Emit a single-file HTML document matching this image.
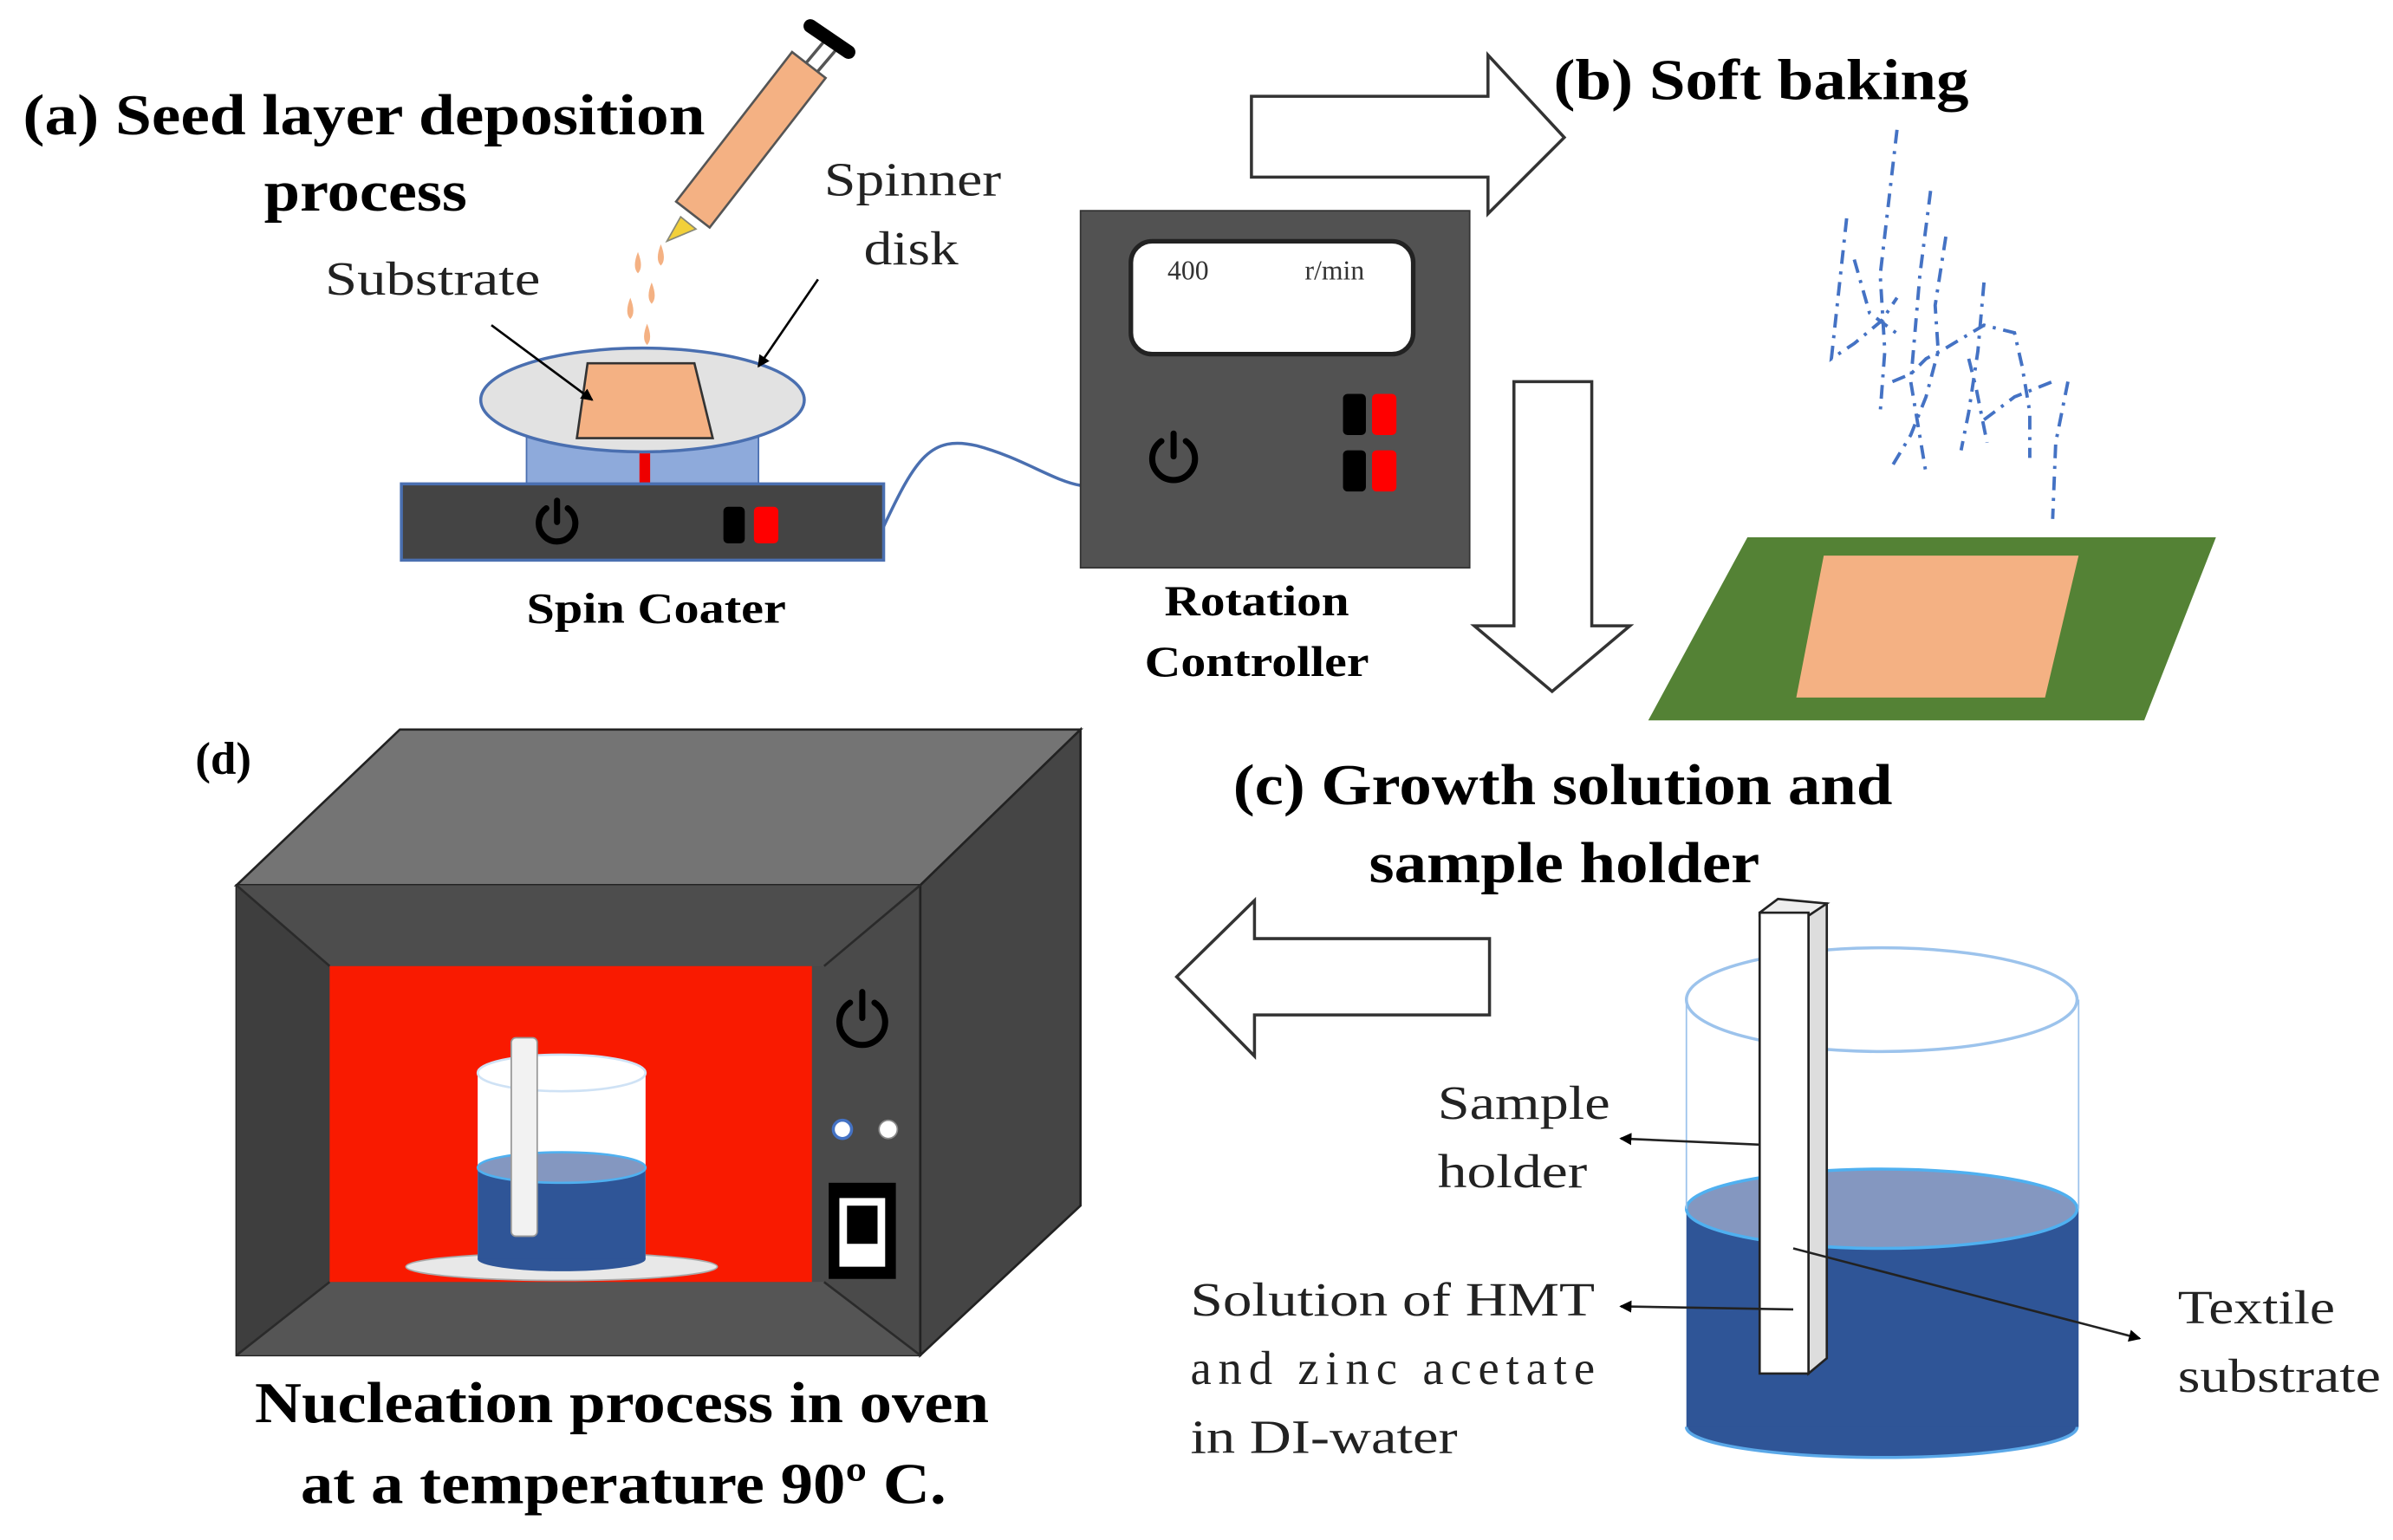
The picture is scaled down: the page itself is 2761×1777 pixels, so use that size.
<!DOCTYPE html>
<html><head><meta charset="utf-8"><style>html,body{margin:0;padding:0;background:#fff}svg{display:block}svg text{font-family:"Liberation Serif",serif}</style></head>
<body>
<svg width="2761" height="1777" viewBox="0 0 1568 1009" xmlns="http://www.w3.org/2000/svg" font-family="'Liberation Serif', serif">
<defs>
<marker id="ah" markerWidth="8" markerHeight="8" refX="7" refY="4" orient="auto" markerUnits="userSpaceOnUse"><path d="M0,0 L8,4 L0,8 z" fill="#000"/></marker>
</defs>
<rect width="1568" height="1009" fill="#fff"/>

<g font-weight="bold" fill="#000">
<text x="15" y="88" font-size="38" textLength="447" lengthAdjust="spacingAndGlyphs">(a) Seed layer deposition</text>
<text x="173" y="138" font-size="38" textLength="133" lengthAdjust="spacingAndGlyphs">process</text>
<text x="1018" y="65" font-size="38" textLength="272" lengthAdjust="spacingAndGlyphs">(b) Soft baking</text>
<text x="808" y="527" font-size="38" textLength="432" lengthAdjust="spacingAndGlyphs">(c) Growth solution and</text>
<text x="897" y="578" font-size="38" textLength="256" lengthAdjust="spacingAndGlyphs">sample holder</text>
<text x="128" y="507" font-size="30">(d)</text>
<text x="167" y="932" font-size="38" textLength="481" lengthAdjust="spacingAndGlyphs">Nucleation process in oven</text>
<text x="197" y="985" font-size="38" textLength="423" lengthAdjust="spacingAndGlyphs">at a temperature 90º C.</text>
<text x="345" y="408" font-size="28" textLength="170" lengthAdjust="spacingAndGlyphs">Spin Coater</text>
<text x="763" y="403" font-size="28" textLength="121" lengthAdjust="spacingAndGlyphs">Rotation</text>
<text x="750" y="443" font-size="28" textLength="147" lengthAdjust="spacingAndGlyphs">Controller</text>
</g>
<g fill="#222" font-size="31">
<text x="213" y="193" textLength="141" lengthAdjust="spacingAndGlyphs">Substrate</text>
<text x="540" y="128" textLength="116" lengthAdjust="spacingAndGlyphs">Spinner</text>
<text x="566" y="173" textLength="62" lengthAdjust="spacingAndGlyphs">disk</text>
<text x="942" y="733" textLength="113" lengthAdjust="spacingAndGlyphs">Sample</text>
<text x="942" y="778" textLength="98" lengthAdjust="spacingAndGlyphs">holder</text>
<text x="780" y="862" textLength="265" lengthAdjust="spacingAndGlyphs">Solution of HMT</text>
<text x="780" y="907" textLength="265" lengthAdjust="spacing">and zinc acetate</text>
<text x="780" y="952" textLength="175" lengthAdjust="spacingAndGlyphs">in DI-water</text>
<text x="1427" y="867" textLength="103" lengthAdjust="spacingAndGlyphs">Textile</text>
<text x="1427" y="912" textLength="133" lengthAdjust="spacingAndGlyphs">substrate</text>
</g>

<line x1="525" y1="45" x2="540" y2="27" stroke="#555" stroke-width="2"/>
<line x1="533" y1="50" x2="550" y2="30" stroke="#555" stroke-width="2"/>
<line x1="531" y1="17" x2="556" y2="34" stroke="#000" stroke-width="9" stroke-linecap="round"/>
<polygon points="443,132 465,149 541,51 519,34" fill="#f4b183" stroke="#555" stroke-width="1.5"/>
<polygon points="446,142 456,150 437,158" fill="#f2d03a" stroke="#887" stroke-width="1"/>
<g fill="#f4b183">
<path d="M433,160 q-4,10 0,14 q4,-4 0,-14z"/><path d="M418,165 q-4,10 0,14 q4,-4 0,-14z"/>
<path d="M427,185 q-4,10 0,14 q4,-4 0,-14z"/><path d="M413,195 q-4,10 0,14 q4,-4 0,-14z"/>
<path d="M424,212 q-4,10 0,14 q4,-4 0,-14z"/>
</g>

<rect x="345" y="265" width="152" height="54" fill="#8eaadb" stroke="#4a6fb0" stroke-width="1"/>
<rect x="419" y="297" width="7" height="21" fill="#e00"/>
<ellipse cx="421" cy="262" rx="106" ry="34" fill="#e2e2e2" stroke="#4a6fb0" stroke-width="2"/>
<polygon points="385,238 455,238 467,287 378,287" fill="#f4b183" stroke="#333" stroke-width="1.5"/>
<rect x="263" y="317" width="316" height="50" fill="#444" stroke="#4a6fb0" stroke-width="2"/>
<g fill="none" stroke="#000" stroke-width="4" stroke-linecap="round">
<path d="M358,333 A12,12 0 1 0 372,333"/><line x1="365" y1="328" x2="365" y2="342"/>
</g>
<rect x="474" y="332" width="14" height="24" rx="3" fill="#000"/>
<rect x="494" y="332" width="16" height="24" rx="3" fill="#f00"/>
<path d="M579,345 C600,300 610,285 640,292 C670,300 690,315 708,318" fill="none" stroke="#4a6fb0" stroke-width="2"/>
<line x1="322" y1="213" x2="388" y2="262" stroke="#000" stroke-width="1.5" marker-end="url(#ah)"/>
<line x1="536" y1="183" x2="497" y2="240" stroke="#000" stroke-width="1.5" marker-end="url(#ah)"/>

<rect x="708" y="138" width="255" height="234" fill="#525252" stroke="#333" stroke-width="1"/>
<rect x="741" y="158" width="185" height="74" rx="14" fill="#fff" stroke="#222" stroke-width="3"/>
<text x="765" y="183" font-size="18" fill="#333">400</text>
<text x="855" y="183" font-size="18" fill="#333">r/min</text>
<g fill="none" stroke="#000" stroke-width="4" stroke-linecap="round">
<path d="M761,289 A14,14 0 1 0 777,289"/><line x1="769" y1="284" x2="769" y2="299"/>
</g>
<rect x="880" y="258" width="15" height="27" rx="3" fill="#000"/>
<rect x="899" y="258" width="16" height="27" rx="3" fill="#f00"/>
<rect x="880" y="295" width="15" height="27" rx="3" fill="#000"/>
<rect x="899" y="295" width="16" height="27" rx="3" fill="#f00"/>

<polygon points="820,63 975,63 975,36 1025,90 975,140 975,116 820,116" fill="#fff" stroke="#333" stroke-width="2"/>
<polygon points="992,250 1043,250 1043,410 1068,410 1017,453 966,410 992,410" fill="#fff" stroke="#333" stroke-width="2"/>
<polygon points="976,615 822,615 822,590 771,640 822,692 822,665 976,665" fill="#fff" stroke="#333" stroke-width="2"/>

<g fill="none" stroke="#4472c4" stroke-width="2.2" stroke-dasharray="9 5 2 5">
<polyline points="1243,85 1232,180 1235,230 1232,270"/>
<polyline points="1210,143 1200,235 1215,225 1233,210 1243,195"/>
<polyline points="1265,125 1258,180 1252,250 1262,310"/>
<polyline points="1275,155 1268,200 1270,230 1262,260 1252,285 1240,305"/>
<polyline points="1300,185 1296,230 1290,270 1285,295"/>
<polyline points="1240,250 1252,245 1262,235 1275,228 1300,213 1320,218 1325,240 1330,270 1330,300"/>
<polyline points="1355,250 1347,290 1345,340"/>
<polyline points="1300,275 1320,260 1345,250"/>
<polyline points="1215,170 1225,205 1245,220"/>
<polyline points="1290,235 1295,255 1302,290"/>
</g>
<polygon points="1145,352 1452,352 1405,472 1080,472" fill="#548235"/>
<polygon points="1195,364 1362,364 1340,457 1177,457" fill="#f4b183"/>

<ellipse cx="1233" cy="935" rx="128" ry="20" fill="#2f5597"/>
<path d="M1105,935 A128,20 0 0 0 1361,935" fill="none" stroke="#5aa8e8" stroke-width="2"/>
<rect x="1105" y="792" width="257" height="143" fill="#2f5597"/>
<ellipse cx="1233" cy="792" rx="128" ry="26" fill="#8497c0" stroke="#4fb0f0" stroke-width="2"/>
<line x1="1105" y1="655" x2="1105" y2="792" stroke="#9cc3ec" stroke-width="1"/>
<line x1="1362" y1="655" x2="1362" y2="792" stroke="#9cc3ec" stroke-width="1"/>
<ellipse cx="1233" cy="655" rx="128" ry="34" fill="none" stroke="#9cc3ec" stroke-width="2"/>
<polygon points="1185,592 1197,592 1197,890 1185,900" fill="#ddd" stroke="#222" stroke-width="1.5"/>
<polygon points="1153,600 1185,600 1197,592 1165,589 1153,598" fill="#eee" stroke="#222" stroke-width="1.5"/>
<rect x="1153" y="598" width="32" height="302" fill="#fff" stroke="#222" stroke-width="1.5"/>
<line x1="1153" y1="750" x2="1062" y2="746" stroke="#222" stroke-width="1.5" marker-end="url(#ah)"/>
<line x1="1175" y1="858" x2="1062" y2="856" stroke="#222" stroke-width="1.5" marker-end="url(#ah)"/>
<line x1="1175" y1="818" x2="1402" y2="877" stroke="#222" stroke-width="1.5" marker-end="url(#ah)"/>

<polygon points="155,580 262,478 708,478 603,580" fill="#747474" stroke="#222" stroke-width="1.5"/>
<polygon points="603,580 708,478 708,790 603,888" fill="#454545" stroke="#222" stroke-width="1.5"/>
<rect x="155" y="580" width="448" height="308" fill="#4a4a4a" stroke="#222" stroke-width="1.5"/>
<polygon points="155,580 216,633 216,840 155,888" fill="#3e3e3e"/>
<polygon points="155,888 216,840 540,840 603,888" fill="#555"/>
<polygon points="155,580 603,580 540,633 216,633" fill="#4d4d4d"/>
<g stroke="#2a2a2a" stroke-width="1.5"><line x1="155" y1="580" x2="216" y2="633"/><line x1="603" y1="580" x2="540" y2="633"/><line x1="155" y1="888" x2="216" y2="840"/><line x1="603" y1="888" x2="540" y2="840"/></g>
<rect x="216" y="633" width="316" height="207" fill="#f91a00"/>
<ellipse cx="368" cy="830" rx="102" ry="9" fill="#e8e8e8" stroke="#aaa" stroke-width="1"/>
<rect x="313" y="703" width="110" height="120" fill="#fff"/>
<ellipse cx="368" cy="703" rx="55" ry="12" fill="#fff" stroke="#cfe2f5" stroke-width="1.5"/>
<ellipse cx="368" cy="825" rx="55" ry="8" fill="#2f5597"/>
<rect x="313" y="765" width="110" height="60" fill="#2f5597"/>
<ellipse cx="368" cy="765" rx="55" ry="10" fill="#8497c0" stroke="#4fb0f0" stroke-width="1.5"/>
<rect x="335" y="680" width="17" height="130" rx="3" fill="#f2f2f2" stroke="#999" stroke-width="1"/>
<g fill="none" stroke="#000" stroke-width="4" stroke-linecap="round">
<path d="M557,657 A15,15 0 1 0 573,657"/><line x1="565" y1="650" x2="565" y2="667"/>
</g>
<circle cx="552" cy="740" r="6" fill="#fff" stroke="#4472c4" stroke-width="2"/>
<circle cx="582" cy="740" r="6" fill="#fff" stroke="#888" stroke-width="1"/>
<rect x="543" y="775" width="44" height="63" fill="#000"/>
<rect x="550" y="785" width="30" height="45" fill="#fff"/>
<rect x="555" y="790" width="20" height="25" fill="#000"/>
</svg>
</body></html>
